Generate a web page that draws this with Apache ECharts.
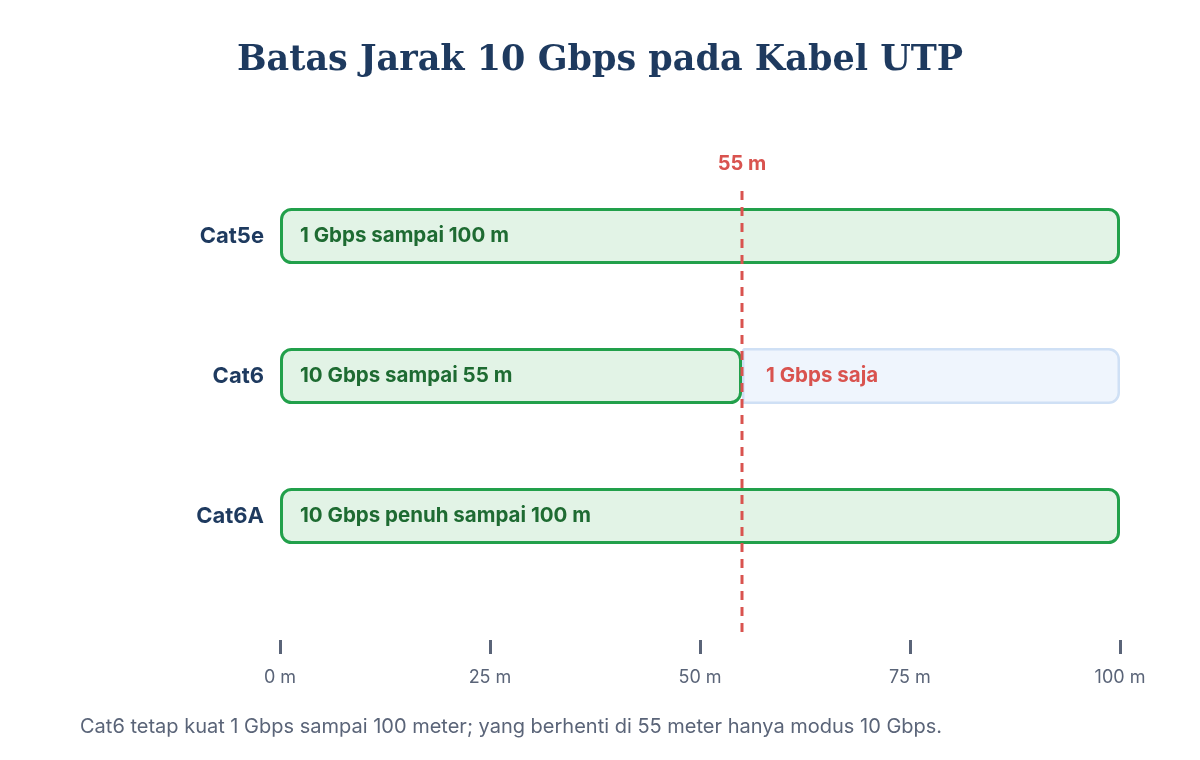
<!DOCTYPE html>
<html><head><meta charset="utf-8">
<script src="https://cdn.jsdelivr.net/npm/echarts@6/dist/echarts.min.js"></script>
<style>html,body{margin:0;background:#fff}#c{width:1200px;height:760px}</style>
</head><body><div id="c"></div>
<script>
const categories = ['Cat5e', 'Cat6', 'Cat6A'];
const fastValues = [100, 55, 100];
const fastLabels = ['1 Gbps sampai 100 m', '10 Gbps sampai 55 m', '10 Gbps penuh sampai 100 m'];
const slowValues = ['-', 45, '-'];
const slowLabels = ['', '1 Gbps saja', ''];
const limitValue = 55;
const xTicks = [0, 25, 50, 75, 100];

const chart = echarts.init(document.getElementById('c'));
const font = 'Inter, "Noto Sans", sans-serif';
chart.setOption({
  animation: false,
  title: { text: 'Batas Jarak 10 Gbps pada Kabel UTP', left: 'center', top: 38,
    textStyle: { fontFamily: '"DejaVu Serif", serif', fontWeight: 'bold', fontSize: 35, color: '#1e3a5f' } },
  graphic: [{ type: 'text', left: 80, top: 717,
    style: { text: 'Cat6 tetap kuat 1 Gbps sampai 100 meter; yang berhenti di 55 meter hanya modus 10 Gbps.',
      fill: '#5a6478', font: '20px ' + font } }],
  grid: [
    { left: 280, right: 80, top: 166, bottom: 174 },
    { left: 280, right: 80, top: 190, bottom: 128 }
  ],
  xAxis: [
    { type: 'value', gridIndex: 0, min: 0, max: 100, interval: 25, offset: 54,
      axisLine: { show: false }, splitLine: { show: false },
      axisTick: { show: true, length: 14, lineStyle: { color: '#5a6478', width: 3 } },
      axisLabel: { margin: 29, formatter: v => v + ' m', color: '#5a6478', fontSize: 18, fontFamily: font } },
    { type: 'value', gridIndex: 1, min: 0, max: 100, show: false }
  ],
  yAxis: [
    { type: 'category', gridIndex: 0, data: categories, inverse: true,
      axisLine: { show: false }, axisTick: { show: false },
      axisLabel: { margin: 16, color: '#1e3a5f', fontSize: 22, fontWeight: 'bold', fontFamily: font } },
    { type: 'value', gridIndex: 1, min: 0, max: 1, show: false }
  ],
  series: [
    { type: 'bar', stack: 's', barWidth: 56, xAxisIndex: 0, yAxisIndex: 0,
      data: fastValues.map(v => ({ value: v, itemStyle: { borderRadius: 10 } })),
      itemStyle: { color: '#e2f3e6', borderColor: '#22a04b', borderWidth: 3 },
      label: { show: true, position: 'insideLeft', distance: 20, formatter: p => fastLabels[p.dataIndex],
        color: '#1e6b32', fontSize: 20.5, fontWeight: 'bold', fontFamily: font } },
    { type: 'bar', stack: 's', barWidth: 56, xAxisIndex: 0, yAxisIndex: 0,
      data: slowValues.map(v => ({ value: v, itemStyle: { borderRadius: [0, 10, 10, 0] } })),
      itemStyle: { color: '#eff5fd', borderColor: '#cfe0f5', borderWidth: 2.5 },
      label: { show: true, position: 'insideLeft', distance: 24, formatter: p => slowLabels[p.dataIndex],
        color: '#d9534f', fontSize: 20.5, fontWeight: 'bold', fontFamily: font } },
    { type: 'line', xAxisIndex: 1, yAxisIndex: 1, symbol: 'none', z: 5,
      lineStyle: { color: '#d9534f', width: 3, type: [9, 7] },
      data: [[limitValue, 0], { value: [limitValue, 1], symbol: 'circle', symbolSize: 0.1,
        label: { show: true, position: 'top', distance: 16, formatter: limitValue + ' m',
          color: '#d9534f', fontSize: 20, fontWeight: 'bold', fontFamily: font } }] }
  ]
});
</script></body></html>
